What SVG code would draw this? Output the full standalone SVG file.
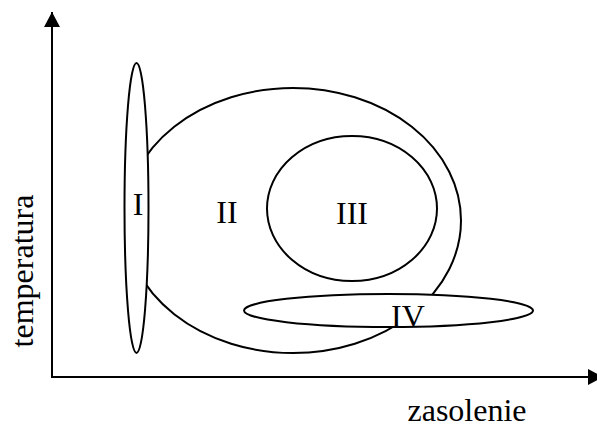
<svg xmlns="http://www.w3.org/2000/svg" width="597" height="428" viewBox="0 0 597 428">
<style>
.sh{fill:none;stroke:#000;stroke-width:2}
.shw{fill:#fff;stroke:#000;stroke-width:2}
.lb{font-family:"Liberation Serif","Times New Roman",serif;font-size:32px;fill:#000;text-anchor:middle}
.ax{stroke:#000;stroke-width:2;fill:none}
</style>
<defs>
<marker id="ah" viewBox="0 0 15 16" refX="15" refY="8" markerWidth="15" markerHeight="16" markerUnits="userSpaceOnUse" orient="auto">
<path d="M0,0 L15,8 L0,16 Z" fill="#000"/>
</marker>
</defs>
<rect width="597" height="428" fill="#fff"/>
<g id="connectors">
<line class="ax" x1="52" y1="377" x2="52" y2="12" marker-end="url(#ah)"/>
<line class="ax" x1="51" y1="377" x2="603" y2="377" marker-end="url(#ah)"/>
</g>
<g id="II">
<ellipse class="sh" cx="293" cy="220.5" rx="168" ry="132.5"/>
<text class="lb" x="227" y="223">II</text>
</g>
<g id="III">
<ellipse class="sh" cx="352" cy="208.5" rx="85" ry="72.5"/>
<text class="lb" x="352" y="224">III</text>
</g>
<g id="I">
<ellipse class="shw" cx="136.5" cy="208" rx="12" ry="145"/>
<text class="lb" x="138" y="215">I</text>
</g>
<g id="IV">
<ellipse class="shw" cx="388.5" cy="310.5" rx="144.5" ry="16.5"/>
<text class="lb" x="408" y="327">IV</text>
</g>
<g id="labels">
<text class="lb" x="467" y="421">zasolenie</text>
<text class="lb" transform="translate(33,271) rotate(-90)">temperatura</text>
</g>
</svg>
